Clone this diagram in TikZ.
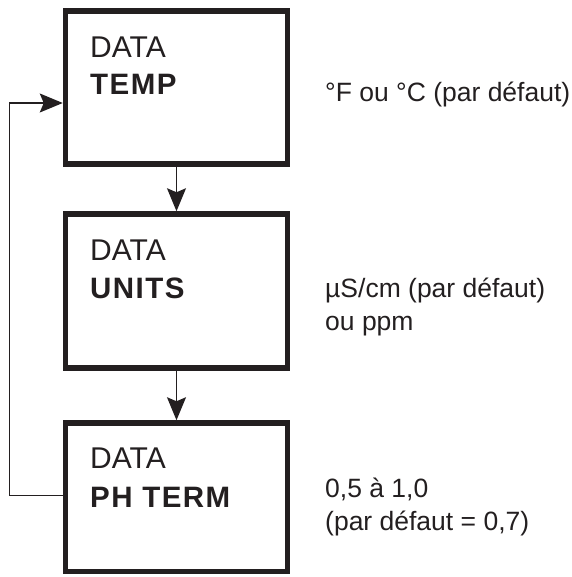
\documentclass[tikz,border=0pt]{standalone}
\usepackage{fontspec}
\setmainfont{Liberation Sans}
\usetikzlibrary{arrows.meta,calc}
\definecolor{ink}{HTML}{231F20}
\begin{document}
\begin{tikzpicture}[x=1pt,y=-1pt,
  box/.style={draw=ink,line width=5.5pt,minimum width=222pt,inner sep=0pt},
  lbl/.style={anchor=base west,inner sep=0pt,text=ink,font=\fontsize{30}{36}\selectfont},
  blbl/.style={anchor=base west,inner sep=0pt,text=ink,font=\fontsize{29.5}{36}\selectfont\bfseries\addfontfeature{LetterSpace=5}},
  note/.style={anchor=base west,inner sep=0pt,text=ink,font=\fontsize{26.5}{32}\selectfont},
  flow/.style={draw=ink,line width=1.3pt,-{Stealth[length=23pt,width=19pt,inset=4pt]}}]
\useasboundingbox (0,0) rectangle (571,577);
\node[box,minimum height=153pt] (b1) at (176.5,87.5) {};
\node[box,minimum height=154pt] (b2) at (176.5,291) {};
\node[box,minimum height=148.5pt] (b3) at (176.5,497.25) {};
\node[lbl] (t1a) at (90,58) {DATA};
\node[blbl] (t1b) at (90,95) {TEMP};
\node[lbl] (t2a) at (90,260) {DATA};
\node[blbl] (t2b) at (90,298) {UNITS};
\node[lbl] (t3a) at (90,468) {DATA};
\node[blbl] (t3b) at (90,507) {PH TERM};
\node[note] (r1) at (325,102) {°F ou °C (par défaut)};
\node[note] (r2a) at (325,297) {µS/cm (par défaut)};
\node[note] (r2b) at (325,330) {ou ppm};
\node[note] (r3a) at (325,497) {0,5 à 1,0};
\node[note] (r3b) at (325,530) {(par défaut = 0,7)};
\draw[flow] (b1.south) -- (b2.north);
\draw[flow] (b2.south) -- (b3.north);
\coordinate (lp) at (9.5,300);
\draw[flow] ([yshift=2pt]b3.west) -| (lp) |- ([yshift=-15.5pt]b1.west);
\end{tikzpicture}
\end{document}
